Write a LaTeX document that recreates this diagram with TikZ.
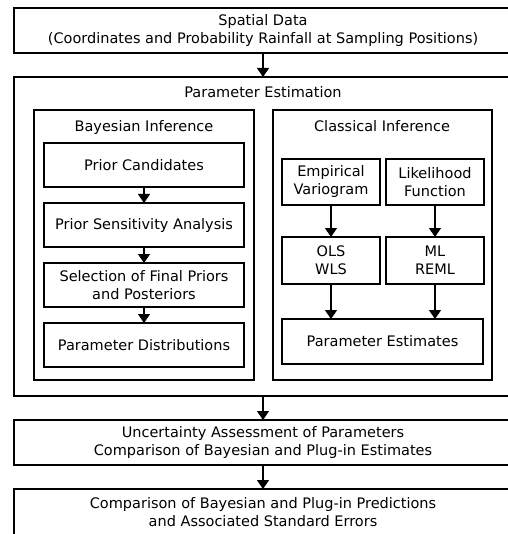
\documentclass[tikz,border=0pt]{standalone}
\usepackage{fontspec}
\setmainfont{DejaVu Sans}
\usepackage{tikz}
\usetikzlibrary{arrows.meta,positioning}
\tikzset{
  frame_box/.style={draw,line width=1.3pt,inner sep=0pt,outer sep=0pt,anchor=north west},
  step_box/.style={draw,line width=1.3pt,inner sep=0pt,outer sep=0pt,anchor=north west,
    align=center,font=\fontsize{14.5}{18}\selectfont},
  title_text/.style={inner sep=0pt,text height=10.5pt,text depth=3.5pt,
    font=\fontsize{14.5}{18}\selectfont},
  arr/.style={-{Triangle[length=9pt,width=12pt]},line width=1.3pt},
}

\begin{document}
\begin{tikzpicture}[x=1pt,y=-1pt]
  \useasboundingbox (0,0) rectangle (507,534);

  \node[step_box,minimum width=498pt,minimum height=45pt] (data) at (14,8)
    {Spatial Data\\(Coordinates and Probability Rainfall at Sampling Positions)};
  \node[frame_box,minimum width=498pt,minimum height=319pt] (est) at (14,77) {};
  \node[title_text] (esttitle) at (263,94.5) {Parameter Estimation};

  \node[frame_box,minimum width=220pt,minimum height=270pt] (bayes) at (34,110) {};
  \node[title_text] (bayestitle) at (144,128.5) {Bayesian Inference};
  \node[step_box,minimum width=200pt,minimum height=44pt] (cand) at (44,143) {Prior Candidates};
  \node[step_box,minimum width=200pt,minimum height=44pt,anchor=north,below=16pt of cand] (sens) {Prior Sensitivity Analysis};
  \node[step_box,minimum width=200pt,minimum height=44pt,anchor=north,below=16pt of sens] (sel) {Selection of Final Priors\\and Posteriors};
  \node[step_box,minimum width=200pt,minimum height=44pt,anchor=north,below=16pt of sel] (dist) {Parameter Distributions};

  \node[frame_box,minimum width=219pt,minimum height=270pt] (classic) at (273,110) {};
  \node[title_text] (classictitle) at (382,128.5) {Classical Inference};
  \node[step_box,minimum width=98pt,minimum height=46pt] (emp) at (282,159) {Empirical\\Variogram};
  \node[step_box,minimum width=98pt,minimum height=46pt] (lik) at (386,159) {Likelihood\\Function};
  \node[step_box,minimum width=98pt,minimum height=47pt] (ols) at (282,237) {OLS\\WLS};
  \node[step_box,minimum width=98pt,minimum height=47pt] (ml) at (386,237) {ML\\REML};
  \node[step_box,minimum width=201pt,minimum height=45pt] (pe) at (282,319) {Parameter Estimates};

  \node[step_box,minimum width=498pt,minimum height=45pt] (unc) at (14,420)
    {Uncertainty Assessment of Parameters\\Comparison of Bayesian and Plug-in Estimates};
  \node[step_box,minimum width=498pt,minimum height=46pt] (pred) at (14,489)
    {Comparison of Bayesian and Plug-in Predictions\\and Associated Standard Errors};

  \draw[arr] (data.south -| esttitle) -- (est.north -| esttitle);
  \draw[arr] (cand) -- (sens);
  \draw[arr] (sens) -- (sel);
  \draw[arr] (sel) -- (dist);
  \draw[arr] (emp) -- (ols);
  \draw[arr] (lik) -- (ml);
  \draw[arr] (ols.south) -- (ols.south |- pe.north);
  \draw[arr] (ml.south) -- (ml.south |- pe.north);
  \draw[arr] (est.south -| esttitle) -- (unc.north -| esttitle);
  \draw[arr] (unc.south -| esttitle) -- (pred.north -| esttitle);
\end{tikzpicture}
\end{document}
